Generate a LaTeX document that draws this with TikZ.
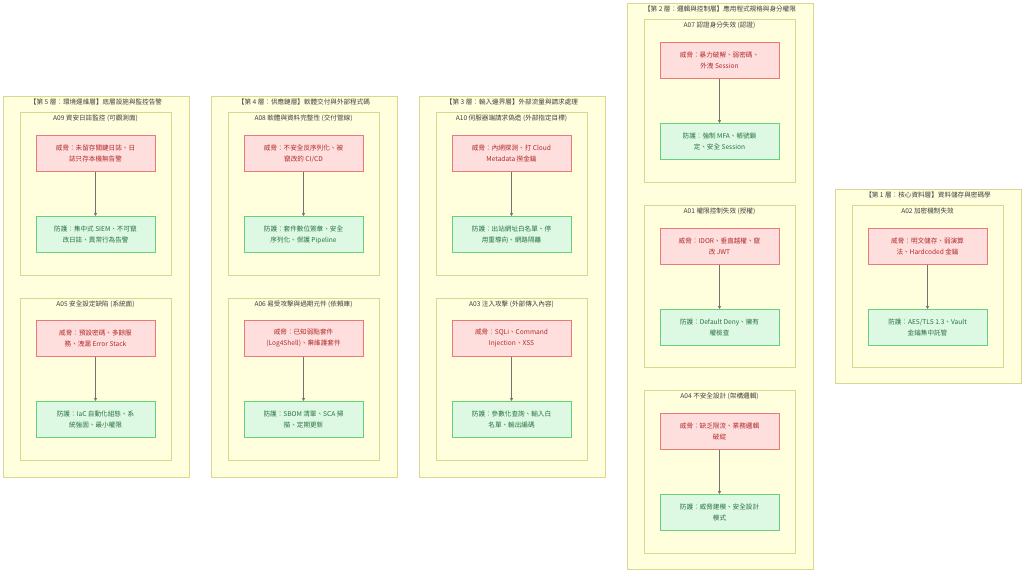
\documentclass[tikz,border=0pt]{standalone}
\usepackage{fontspec}
\setmainfont{Noto Sans CJK TC}
\usetikzlibrary{arrows.meta}
\definecolor{grpfill}{HTML}{FFFFDE}
\definecolor{grpline}{HTML}{D8D88E}
\definecolor{thfill}{HTML}{FFDEDE}
\definecolor{thline}{HTML}{EE7777}
\definecolor{thtext}{HTML}{B02A2A}
\definecolor{dffill}{HTML}{DDF9E3}
\definecolor{dfline}{HTML}{66D07A}
\definecolor{dftext}{HTML}{2A7040}
\tikzset{
 grp/.style={draw=grpline,fill=grpfill,line width=0.8pt},
 ttl/.style={font=\fontsize{6.6}{8}\selectfont,text=black!75,inner sep=0pt},
 threat/.style={draw=thline,fill=thfill,line width=0.9pt,minimum width=119pt,minimum height=36pt,align=center,text=thtext,font=\fontsize{6.6}{11}\selectfont},
 defense/.style={draw=dfline,fill=dffill,line width=0.9pt,minimum width=119pt,minimum height=36pt,align=center,text=dftext,font=\fontsize{6.6}{11}\selectfont},
 conn/.style={draw=black!55,line width=0.7pt,-{Triangle[length=3pt,width=3pt,fill=black!80]}}
}
\newcommand{\grpbox}[6]{% name, cx, top, bottom, width, title
 \node[grp,minimum width=#5pt,minimum height=#4pt-#3pt,anchor=north,inner sep=0pt] (#1) at (#2,#3) {};
 \node[ttl] (#1t) at (#2,#3+6) {#6};}
\newcommand{\tdpair}[5]{% prefix, cx, threat top, threat text, defense text
 \node[threat,anchor=north] (#1th) at (#2,#3) {#4};
 \node[defense,anchor=north] (#1df) at (#2,#3+81) {#5};
 \draw[conn] (#1th) -- (#1df);}
\begin{document}
\begin{tikzpicture}[x=1pt,y=-1pt]
\useasboundingbox (0,0) rectangle (1024,573);
% Layer 5
\grpbox{L5}{96}{96}{477}{186}{【第 5 層：環境運維層】底層設施與監控告警}
\grpbox{A09}{95.5}{112}{275}{151}{A09 資安日誌監控 (可觀測面)}
\tdpair{a09}{95.5}{135}{威脅：未留存關鍵日誌、日\\誌只存本機無告警}{防護：集中式 SIEM、不可竄\\改日誌、異常行為告警}
\grpbox{A05}{95.5}{298}{460}{151}{A05 安全設定缺陷 (系統面)}
\tdpair{a05}{95.5}{320}{威脅：預設密碼、多餘服\\務、洩漏 Error Stack}{防護：IaC 自動化組態、系\\統強固、最小權限}
% Layer 4
\grpbox{L4}{304}{96}{477}{186}{【第 4 層：供應鏈層】軟體交付與外部程式碼}
\grpbox{A08}{303.5}{112}{275}{151}{A08 軟體與資料完整性 (交付管線)}
\tdpair{a08}{303.5}{135}{威脅：不安全反序列化、被\\竄改的 CI/CD}{防護：套件數位簽章、安全\\序列化、保護 Pipeline}
\grpbox{A06}{303.5}{298}{460}{151}{A06 易受攻擊與過期元件 (依賴庫)}
\tdpair{a06}{303.5}{320}{威脅：已知弱點套件\\(Log4Shell)、棄維護套件}{防護：SBOM 清單、SCA 掃\\描、定期更新}
% Layer 3
\grpbox{L3}{512}{96}{477}{186}{【第 3 層：輸入邊界層】外部流量與請求處理}
\grpbox{A10}{511.5}{112}{275}{151}{A10 伺服器端請求偽造 (外部指定目標)}
\tdpair{a10}{511.5}{135}{威脅：內網探測、打 Cloud\\Metadata 撈金鑰}{防護：出站網址白名單、停\\用重導向、網路隔離}
\grpbox{A03}{511.5}{298}{460}{151}{A03 注入攻擊 (外部傳入內容)}
\tdpair{a03}{511.5}{320}{威脅：SQLi、Command\\Injection、XSS}{防護：參數化查詢、輸入白\\名單、輸出編碼}
% Layer 2
\grpbox{L2}{720}{3}{569}{186}{【第 2 層：邏輯與控制層】應用程式規格與身分權限}
\grpbox{A07}{719.5}{19}{182}{151}{A07 認證身分失效 (認證)}
\tdpair{a07}{719.5}{42}{威脅：暴力破解、弱密碼、\\外洩 Session}{防護：強制 MFA、帳號鎖\\定、安全 Session}
\grpbox{A01}{719.5}{205}{367}{151}{A01 權限控制失效 (授權)}
\tdpair{a01}{719.5}{228}{威脅：IDOR、垂直越權、竄\\改 JWT}{防護：Default Deny、擁有\\權檢查}
\grpbox{A04}{719.5}{390}{553}{151}{A04 不安全設計 (架構邏輯)}
\tdpair{a04}{719.5}{413}{威脅：缺乏限流、業務邏輯\\破綻}{防護：威脅建模、安全設計\\模式}
% Layer 1
\grpbox{L1}{928}{189}{383}{186}{【第 1 層：核心資料層】資料儲存與密碼學}
\grpbox{A02}{927.5}{205}{367}{151}{A02 加密機制失效}
\tdpair{a02}{927.5}{228}{威脅：明文儲存、弱演算\\法、Hardcoded 金鑰}{防護：AES/TLS 1.3、Vault\\金鑰集中託管}
\end{tikzpicture}
\end{document}
